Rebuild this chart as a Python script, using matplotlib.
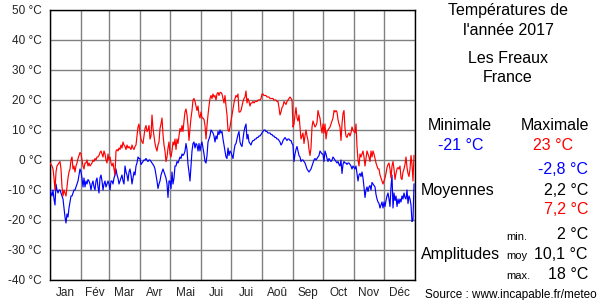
import numpy as np
import matplotlib
matplotlib.use("Agg")
import matplotlib.pyplot as plt

plt.rcParams['font.family'] = ['Liberation Sans', 'DejaVu Sans']

# daily min / max temperatures, one list per month
jan_max = [-1, -1.5, -2, -3, -6, -10, -4, -2, -1.5, -1, -0.5, -3, -9, -12, -10, -11, -12, -9, -6, -4, -3, 0, 1, -3, -2, -4, -2, -1, 0.5, 1.5, 2.5]
jan_min = [-10, -11, -12, -10, -13, -15, -8, -10, -11, -10, -10, -11, -12, -13, -16, -19, -21, -18, -19, -16, -14, -12, -12, -11, -10, -10, -9, -8, -7, -5, -3]
feb_max = [2, 0, -2, -3, -1, -1, 0, -2, -1, -2, -1.5, -1, 0, -0.5, 0.5, 0, 1, 1, 1.5, 2.5, 3, 2, 1, 3, 2, 0, -1, 2]
feb_min = [-4, -6, -9, -6, -9, -7, -8, -6.5, -7, -8, -10, -8, -7, -9, -10, -7, -6, -9, -11, -6, -5, -7, -10, -8, -7, -9, -8, -7]
mar_max = [0, 1, -1, -2, -1, -3, -5, 3, 3.5, 3, 4, 3.5, 5, 4, 6, 5, 4.5, 3.5, 5, 4, 4.5, 4, 3.5, 5, 4, 3.5, 4.5, 5, 8, 11, 12]
mar_min = [-8, -10, -7, -7, -8, -6, -5, -3, -5, -6, -8, -7, -6, -5, -7, -8, -2, -4, -5, -7, -4, -3, -5, -8, -6, -4, -5, -2, -1, 1, 0.5]
apr_max = [9, 7, 6, 5.5, 8, 10.5, 11.5, 9.5, 10, 11.5, 7, 8, 15, 10.5, 8, 5.5, 4, 3, 5, 6, 10.5, 12, 14, 8.5, 5, 3, -0.5, 1, 4, 6]
apr_min = [0.5, -1.5, -1, -0.5, 0, 0, 0.5, 0, -0.5, 0, 0, -0.5, -1, -1.5, -2, -3, -5, -7, -9.5, -8, -7, -5, -4, -3, -4, -5, -6, -8, -12.5, -7]
may_max = [2, 1, 3, 6, 5, 7, 3.5, 7, 5.5, 8, 10.5, 9.5, 11.5, 9.5, 13, 16, 17, 15, 11.5, 6.5, 10.5, 14, 16.5, 20, 20.5, 19.5, 18, 16.5, 18, 15, 14]
may_min = [-7, -9.5, -4, -8, -6, -2, -2, -0.5, -1, 0, 1, 0.5, 2, 1.5, 2, 3, 5.5, 3.5, -1.5, -4, -7, -2, 3, 5.5, 6, 4, 5.5, 5, 3, 5.5, 3]
jun_max = [16, 14, 14, 13.5, 11.5, 7, 11.5, 15, 18, 20.5, 21.5, 20.5, 22, 21, 21.5, 20, 22, 22.5, 21.5, 22.5, 22.5, 22, 20.5, 19, 21.5, 18, 15, 10, 9.5, 11]
jun_min = [5, 6, 4, 2, -0.5, -1, 1.5, 6, 7, 8, 10, 9.5, 9, 8, 6, 8, 7, 9.5, 8.5, 10, 9, 9.5, 7, 5, 3, 1, 0.5, 4, 1.5, 3]
jul_max = [13, 15, 17, 19, 20.5, 21.5, 21, 22, 16, 16, 16.5, 18, 19.5, 20.5, 21, 23, 19, 20.5, 19.5, 18, 19, 19, 19.5, 19, 19.5, 19.5, 19.5, 20, 20, 20, 20.5]
jul_min = [2.5, 1.5, 0.5, 3, 5, 5.5, 7, 8.5, 9.5, 6, 5, 4.5, 7, 9.5, 11, 12, 7, 8.5, 6, 5.5, 5, 6, 6.5, 6.5, 7, 7, 7.5, 7.5, 8, 8, 8.5]
aug_max = [22, 22, 21.5, 21.5, 21.5, 21, 21, 21, 20.5, 20.5, 20.5, 20.5, 20, 20, 20, 19.5, 19.5, 17.5, 15, 16, 17.5, 18, 19.5, 19, 18.5, 19.5, 20, 20.5, 21, 20.5, 20]
aug_min = [9, 9.5, 10, 10, 9.5, 9.5, 9, 9, 9, 8.5, 8.5, 8, 8, 7.5, 7.5, 7, 7, 6.5, 6, 5, 5.5, 6.5, 7, 7.5, 7, 6.5, 7, 7, 6.5, 6.5, 5.5]
sep_max = [11, 12, 15, 17.5, 14, 13, 15, 11, 7, 8, 9, 5.5, 8, 10, 8, 6.5, 3.5, 1.5, 4, 11, 13, 12, 11, 11.5, 12.5, 16.5, 15, 14, 11, 9]
sep_min = [5, -0.5, 2, 3.5, 4.5, 3, 1.5, 1, -0.5, 0, 0, -0.5, -1, -2, -3, -3.5, -4, -3.5, -3, -2, -1, 0, 0.5, 0, 0.5, 1, 1.5, 3, 2.5, 2]
oct_max = [12, 9, 12, 7, 9.5, 10, 10.5, 11, 12, 13, 14, 16.5, 16, 16.5, 16, 13.5, 12, 11, 6.5, 12, 15.5, 16.5, 10.5, 8, 7.5, 8.5, 9, 8, 9, 11, 10]
oct_min = [2, -0.5, 3, 2, 0.5, -0.5, 0.5, 0, -0.5, 0, 1, 0.5, 0, -0.5, -1, -0.5, -1.5, -2, 0, -4.5, -1.5, -0.5, -1, -1, -1.5, -1, -1, -1.5, -2, -3, -2]
nov_max = [9.5, 9, 12, 4.5, 0, -2, 2, 1, 2, 3, 1, -2, 0.5, 3, 2, 1, -0.5, 3, 1, 3, 2, 0.5, -1, -2, -3, -3, -5, -6, -7, -8]
nov_min = [-2.5, -3, -2, -4.5, -7, -5, -4.5, -5.5, -4, -6, -9, -12.5, -10, -9, -10.5, -9, -8.5, -10, -7.5, -8, -8.5, -9, -11.5, -13, -14, -14.5, -16, -15, -14, -16]
dec_max = [-7, -6, -4.5, -2.5, -1.5, -1, -3, -6, -2, -0.5, -3, -6.5, -4.5, -3, -2.5, -3, -2, -6, -6.5, -4, -3, -1.5, 1, -2.5, -4.5, -5.5, -3, 1.5, -1.5, -7, 1.5]
dec_min = [-14, -15.5, -13.5, -12, -11, -13, -15.5, -9, -5, -16, -11, -13.5, -12, -15.5, -13, -14.5, -13, -14, -12, -13, -11, -12.5, -13, -10, -14.5, -12, -13, -15, -20.5, -20, -8]

month_starts = [0, 31, 59, 90, 120, 151, 181, 212, 243, 273, 304, 334, 365]
month_labels = ["Jan", "Fév", "Mar", "Avr", "Mai", "Jui", "Jui", "Aoû", "Sep", "Oct", "Nov", "Déc"]
yticks = [50, 40, 30, 20, 10, 0, -10, -20, -30, -40]

maxs = [jan_max, feb_max, mar_max, apr_max, may_max, jun_max, jul_max, aug_max, sep_max, oct_max, nov_max, dec_max]
mins = [jan_min, feb_min, mar_min, apr_min, may_min, jun_min, jul_min, aug_min, sep_min, oct_min, nov_min, dec_min]

def days_of(series):
    return np.concatenate([month_starts[i] + np.arange(len(m)) for i, m in enumerate(series)])

x_max = days_of(maxs)
x_min = days_of(mins)
t_max = np.concatenate(maxs)
t_min = np.concatenate(mins)

W, H = 600, 300
fig = plt.figure(figsize=(6, 3), dpi=100)
ax = fig.add_axes([50 / W, 20 / H, 365 / W, 270 / H])

ax.plot(x_min, t_min, color='#0000ff', lw=0.85, zorder=3)
ax.plot(x_max, t_max, color='#ff0000', lw=0.85, zorder=3)

ax.set_xlim(0, 365)
ax.set_ylim(-40, 50)
ax.set_yticks(yticks)
ax.set_yticklabels([f"{v} °C" for v in yticks], fontsize=8.5, color='#222222')
ax.set_xticks(month_starts)
ax.set_xticklabels([])
mids = [(month_starts[i] + month_starts[i + 1]) / 2 for i in range(12)]
ax.set_xticks(mids, minor=True)
ax.set_xticklabels(month_labels, minor=True, fontsize=8.5, color='#222222')
ax.tick_params(axis='both', which='both', length=0)
ax.tick_params(axis='y', pad=6)
ax.tick_params(axis='x', which='minor', pad=5)
ax.grid(True, which='major', color='#808080', lw=1.0)
ax.set_axisbelow(True)
for s in ax.spines.values():
    s.set_color('black')
    s.set_linewidth(1.0)

def txt(x, y, s, size=11.5, color='black', ha='center'):
    fig.text(x / W, 1 - y / H, s, fontsize=size, color=color, ha=ha, va='baseline')

txt(508, 15, "Températures de")
txt(508, 35, "l'année 2017")
txt(508, 63, "Les Freaux")
txt(508, 82, "France")
txt(460, 130, "Minimale")
txt(555, 130, "Maximale")
txt(461, 150, "-21 °C", color='#0000ff')
txt(553, 150, "23 °C", color='#ff0000')
txt(588, 174, "-2,8 °C", color='#0000ff', ha='right')
txt(421, 195, "Moyennes", ha='left')
txt(588, 195, "2,2 °C", ha='right')
txt(588, 214, "7,2 °C", color='#ff0000', ha='right')
txt(506, 240, "min.", size=8, ha='left')
txt(588, 239, "2 °C", ha='right')
txt(421, 259, "Amplitudes", ha='left')
txt(506, 259, "moy", size=8, ha='left')
txt(588, 259, "10,1 °C", ha='right')
txt(506, 279, "max.", size=8, ha='left')
txt(588, 279, "18 °C", ha='right')
txt(597, 298, "Source : www.incapable.fr/meteo", size=8.5, ha='right')

fig.savefig("out.png", dpi=100)
